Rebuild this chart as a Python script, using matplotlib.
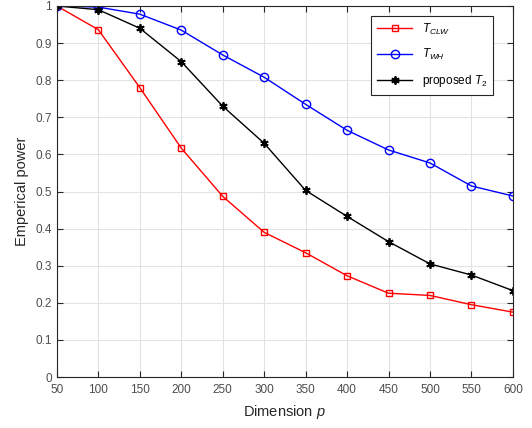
import numpy as np
import matplotlib
matplotlib.use("Agg")
import matplotlib.pyplot as plt

plt.rcParams['font.family'] = ['Liberation Sans', 'DejaVu Sans']
plt.rcParams['mathtext.fontset'] = 'custom'
plt.rcParams['mathtext.it'] = 'Liberation Sans:italic'
plt.rcParams['mathtext.rm'] = 'Liberation Sans'

dims = [50, 100, 150, 200, 250, 300, 350, 400, 450, 500, 550, 600]
powerCLW = [1.0, 0.936, 0.78, 0.617, 0.487, 0.39, 0.335, 0.273, 0.226, 0.22, 0.195, 0.175]
powerWH = [1.0, 0.997, 0.978, 0.935, 0.868, 0.808, 0.735, 0.665, 0.612, 0.577, 0.515, 0.488]
powerT2 = [1.0, 0.99, 0.94, 0.85, 0.73, 0.63, 0.503, 0.433, 0.365, 0.305, 0.275, 0.233]

axisColor = "#262626"
tickColor = "#4d4d4d"

fig = plt.figure(figsize=(5.32, 4.28), dpi=100)
ax = fig.add_axes([0.107, 0.119, 0.857, 0.867])

# asterisk marker like matlab '*'
asterisk = (6, 2, 0)

ax.plot(dims, powerCLW, color="red", marker="s", markersize=5, markerfacecolor="none",
        markeredgewidth=1.0, linewidth=1.0, label=r"$T_{CLW}$")
ax.plot(dims, powerWH, color="blue", marker="o", markersize=6, markerfacecolor="none",
        markeredgewidth=1.0, linewidth=1.0, label=r"$T_{WH}$")
ax.plot(dims, powerT2, color="black", marker=asterisk, markersize=6, markeredgewidth=1.3,
        linewidth=1.0, label=r"proposed $T_2$")

ax.set_xlim(50, 600)
ax.set_ylim(0, 1)
ax.set_xticks(np.arange(50, 601, 50))
ax.set_yticks(np.arange(0, 1.01, 0.1))
ax.set_yticklabels(["0", "0.1", "0.2", "0.3", "0.4", "0.5", "0.6", "0.7", "0.8", "0.9", "1"])
ax.grid(True, color="#e3e3e3", linewidth=0.8)
ax.set_axisbelow(True)
ax.tick_params(direction="in", length=4, width=0.8, colors=axisColor, labelcolor=tickColor,
               labelsize=8.5, top=True, right=True)
ax.tick_params(axis="x", pad=5)
for s in ax.spines.values():
    s.set_color(axisColor)
    s.set_linewidth(0.8)

ax.set_xlabel(r"Dimension $p$", fontsize=10.5, color=axisColor, labelpad=5)
ax.set_ylabel("Emperical power", fontsize=10.5, color=axisColor, labelpad=5)

leg = ax.legend(loc="upper right", fontsize=8.5, fancybox=False, framealpha=1,
                edgecolor=axisColor, borderpad=0.5, labelspacing=0.9,
                handlelength=3.0, bbox_to_anchor=(0.97, 0.99))
leg.get_frame().set_linewidth(0.8)

fig.savefig("out.png", dpi=100)
